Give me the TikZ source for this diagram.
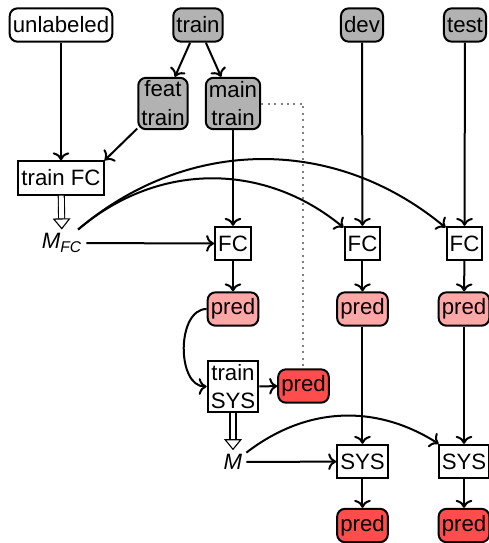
\documentclass[tikz,border=0pt]{standalone}
\usepackage{fontspec}
\setmainfont{Liberation Sans}
\usetikzlibrary{arrows.meta}

\tikzset{
  box/.style={draw, inner sep=1.4pt, minimum height=15pt, align=center, font=\fontsize{10}{13}\selectfont},
  data/.style={box, rounded corners=3.5pt, fill=black!30},
  pool/.style={box, rounded corners=3.5pt, fill=white},
  predlo/.style={box, rounded corners=3.5pt, fill=red!35},
  predhi/.style={box, rounded corners=3.5pt, fill=red!70},
  model/.style={inner sep=1.4pt, font=\fontsize{10}{13}\selectfont},
  dbl/.style={double, double distance=2.2pt, line width=0.5pt, -{Triangle[open,length=5pt,width=8pt]}},
}

\begin{document}
\begin{tikzpicture}[x=0.45pt,y=0.45pt,yscale=-1,xscale=1,line width=0.9pt]
		\useasboundingbox (0,0) rectangle (489,543);
		
		%data sets
		\node (unlab) [pool] at (61,25) {unlabeled};
		\node (train) [data] at (198,25) {train};
		\node (dev) [data] at (362,25) {dev};
		\node (test) [data] at (465,25) {test};
		\node (ftrain) [data] at (163,103.5) {feat\\train};
		\node (mtrain) [data] at (233,103.5) {main\\train};
		
		%feature classifier
		\node (trainfc) [box] at (61,178) {train FC};
		\node (mfc) [model] at (62,243) {\textit{M}\textsubscript{\textit{FC}}};
		\node (fca) [box] at (233,243.5) {FC};
		\node (fcb) [box] at (362.5,243.5) {FC};
		\node (fcc) [box] at (464.5,243.5) {FC};
		\node (preda) [predlo] at (233,309) {pred};
		\node (predb) [predlo] at (362.5,309) {pred};
		\node (predc) [predlo] at (464,309) {pred};
		
		%main system
		\node (trainsys) [box] at (233,386.5) {train\\SYS};
		\node (predt) [predhi] at (303.5,386) {pred};
		\node (msys) [model] at (233,462) {\textit{M}};
		\node (sysb) [box] at (362.5,461.5) {SYS};
		\node (sysc) [box] at (464,461.5) {SYS};
		\node (predy) [predhi] at (362.5,525.5) {pred};
		\node (predz) [predhi] at (464,525.5) {pred};
		
		\draw [->] (unlab) -- (trainfc);
		\draw [->] (train) -- (ftrain);
		\draw [->] (train) -- (mtrain);
		\draw [->] (ftrain) -- (trainfc.north east);
		\draw [dbl] (trainfc) -- (mfc);
		\draw [->] (mtrain) -- (fca);
		\draw [->] (dev) -- (fcb);
		\draw [->] (test) -- (fcc);
		\draw [->] (mfc) -- (fca);
		\draw [->] (mfc) to [bend right=40] (fcb);
		\draw [->] (mfc) to [bend right=40] (fcc);
		\draw [->] (fca) -- (preda);
		\draw [->] (fcb) -- (predb);
		\draw [->] (fcc) -- (predc);
		\draw [->] (preda.west) to [out=180,in=180] (trainsys.west);
		\draw [->] (trainsys) -- (predt);
		\draw [gray, dotted] (mtrain.east) -| (predt.north);
		\draw [dbl] (trainsys) -- (msys);
		\draw [->] (predb) -- (sysb);
		\draw [->] (predc) -- (sysc);
		\draw [->] (msys) -- (sysb);
		\draw [->] (msys) to [bend right=35] (sysc);
		\draw [->] (sysb) -- (predy);
		\draw [->] (sysc) -- (predz);
		
	\end{tikzpicture}
\end{document}
